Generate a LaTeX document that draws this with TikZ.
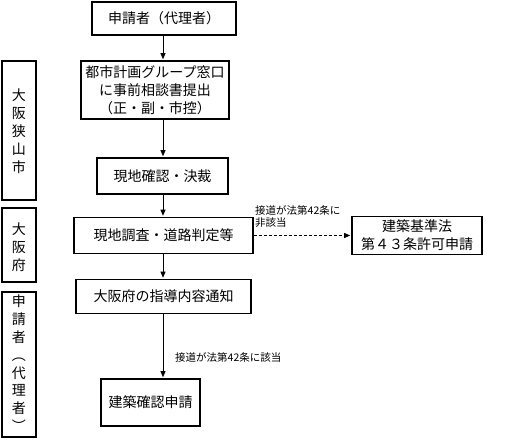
\documentclass[tikz,border=0pt]{standalone}
\usepackage{fontspec}
\setmainfont{Noto Sans CJK JP}
\usetikzlibrary{arrows.meta}
\tikzset{
  box/.style={draw, line width=1.8pt, inner sep=0pt, align=center, font=\fontsize{14}{18}\selectfont},
  vtext/.style={align=center, inner sep=0pt, font=\fontsize{14}{18}\selectfont},
  small/.style={inner sep=0pt, align=left, font=\fontsize{10.5}{12}\selectfont},
  arr/.style={line width=0.8pt, -{Triangle[length=6pt,width=5pt]}, shorten >=0.9pt},
  dashline/.style={dash pattern=on 3pt off 2pt}
}
\begin{document}
\begin{tikzpicture}[x=1pt,y=-1pt]
\useasboundingbox (0,0) rectangle (512,441);
% main flow boxes
\node[box, minimum width=144pt, minimum height=33pt] (b1) at (164,18.5) {申請者（代理者）};
\node[box, minimum width=148pt, minimum height=58pt] (b2) at (155,90) {都市計画グループ窓口\\に事前相談書提出\\（正・副・市控）};
\node[box, minimum width=131pt, minimum height=36pt] (b3) at (162.5,176) {現地確認・決裁};
\node[box, minimum width=179pt, minimum height=36pt] (b4) at (163.5,235.5) {現地調査・道路判定等};
\node[box, minimum width=130pt, minimum height=38pt] (b5) at (417,235.5) {建築基準法\\第４３条許可申請};
\node[box, minimum width=175pt, minimum height=34pt] (b6) at (163.5,296.5) {大阪府の指導内容通知};
\node[box, minimum width=99pt, minimum height=47pt] (b7) at (150.5,402.5) {建築確認申請};
% left side boxes
\node[box, minimum width=34pt, minimum height=139pt] (l1) at (19,130.5) {};
\node[box, minimum width=34pt, minimum height=74pt] (l2) at (19,245) {};
\node[box, minimum width=34pt, minimum height=145pt] (l3) at (19,364.5) {};
\node[vtext] (t1) at (19,131) {大\\阪\\狭\\山\\市};
\node[vtext] (t2) at (19,247) {大\\阪\\府};
\node[vtext, anchor=north, font=\fontsize{14}{17.8}\selectfont] (t3) at (19,295) {申\\請\\者\\︵\\代\\理\\者\\︶};
% connectors
\coordinate (sp) at (163,0);
\draw[arr] (b1.south -| sp) -- (b2.north -| sp);
\draw[arr] (b2.south -| sp) -- (b3.north -| sp);
\draw[arr] (b3.south -| sp) -- (b4.north -| sp);
\draw[arr] (b4.south -| sp) -- (b6.north -| sp);
\draw[arr] (b6.south -| sp) -- (b7.north -| sp);
\draw[arr, dashline] (b4.east) -- (b5.west);
% labels
\node[small, anchor=west] (lab1) at (255,217) {接道が法第42条に\\非該当};
\node[small, anchor=west] (lab2) at (175,357) {接道が法第42条に該当};
\end{tikzpicture}
\end{document}
